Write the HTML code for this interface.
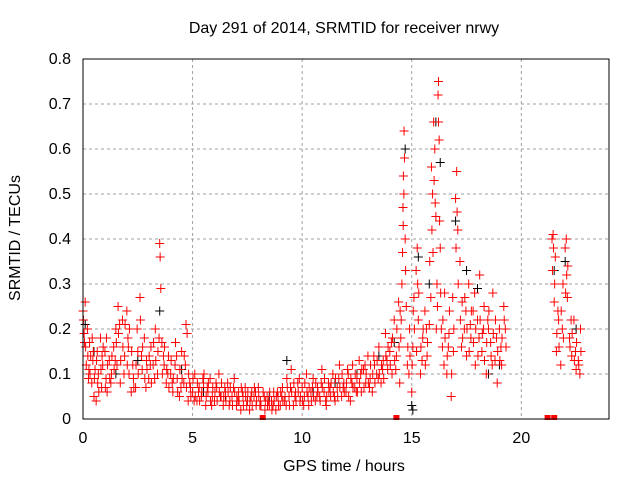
<!DOCTYPE html>
<html><head><meta charset="utf-8"><style>
body{margin:0;background:#fff;}
svg text{font-family:"Liberation Sans",sans-serif;font-size:16px;fill:#000;}
</style></head><body>
<svg id="chart" width="640" height="480">
<text x="344" y="33" text-anchor="middle">Day 291 of 2014, SRMTID for receiver nrwy</text>
<text x="344" y="471" text-anchor="middle">GPS time / hours</text>
<text transform="translate(20,238) rotate(-90)" text-anchor="middle">SRMTID / TECUs</text>
<g id="grid"></g><g id="ticks"></g><g id="marks"></g>
<rect x="83" y="59" width="526" height="360" fill="none" stroke="#000" stroke-width="1"/>
</svg>
<script>
const xTicks=[0,5,10,15,20];
const yTicks=[0,0.1,0.2,0.3,0.4,0.5,0.6,0.7,0.8];
const yTickLabels=["0","0.1","0.2","0.3","0.4","0.5","0.6","0.7","0.8"];
const redT=[0.0,0.05,0.1,0.15,0.2,0.25,0.3,0.35,0.4,0.45,0.5,0.55,0.6,0.65,0.7,0.8,0.85,0.9,1.0,1.05,1.1,1.2,1.3,1.4,1.5,1.55,1.6,1.7,1.8,1.9,2.0,2.05,2.1,2.2,2.3,2.4,2.5,2.6,2.7,2.8,2.9,3.0,3.1,3.2,3.3,3.4,3.5,3.52,3.55,3.6,3.7,3.8,3.9,4.0,4.1,4.2,4.3,4.4,4.5,4.6,4.7,4.75,4.8,4.9,5.0,5.1,5.2,5.3,5.4,5.5,5.6,5.7,5.8,5.9,6.0,6.1,6.2,6.3,6.4,6.5,6.6,6.7,6.8,6.9,7.0,7.1,7.2,7.3,7.4,7.5,7.6,7.7,7.8,7.9,8.0,8.1,8.3,8.4,8.5,8.6,8.7,8.8,8.9,9.0,9.1,9.2,9.3,9.4,9.5,9.6,9.7,9.8,9.9,10.0,10.1,10.2,10.3,10.4,10.5,10.6,10.7,10.8,10.9,11.0,11.1,11.2,11.3,11.4,11.5,11.6,11.7,11.8,11.9,12.0,12.1,12.2,12.3,12.4,12.5,12.6,12.7,12.8,12.9,13.0,13.1,13.2,13.3,13.4,13.5,13.6,13.7,13.8,13.9,14.0,14.1,14.2,14.3,14.4,14.45,14.5,14.55,14.6,14.62,14.65,14.67,14.7,14.75,14.8,14.9,15.0,15.05,15.1,15.2,15.25,15.3,15.4,15.5,15.6,15.7,15.8,15.9,15.95,16.0,16.05,16.1,16.15,16.2,16.22,16.25,16.3,16.35,16.4,16.5,16.6,16.7,16.8,16.9,17.0,17.05,17.1,17.2,17.3,17.4,17.5,17.6,17.7,17.8,17.9,18.0,18.1,18.2,18.3,18.4,18.5,18.6,18.7,18.8,18.9,19.0,19.1,19.2,19.3,21.4,21.45,21.5,21.55,21.6,21.7,21.8,21.9,22.0,22.05,22.1,22.2,22.3,22.4,22.5,22.6,22.7];
const redV=[.24,.19,.26,.12,.2,.09,.17,.14,.08,.13,.05,.11,.04,.15,.1,.18,.07,.12,.15,.09,.06,.13,.1,.16,.2,.12,.25,.08,.22,.14,.24,.18,.1,.06,.09,.07,.15,.27,.11,.18,.13,.09,.16,.12,.2,.1,.39,.36,.29,.17,.12,.08,.14,.1,.06,.12,.09,.05,.15,.08,.21,.19,.04,.07,.06,.1,.04,.07,.05,.08,.03,.06,.09,.05,.04,.07,.1,.05,.03,.06,.08,.04,.05,.09,.03,.06,.02,.05,.07,.04,.02,.06,.05,.03,.07,.04,.02,.05,.03,.04,.06,.02,.05,.03,.07,.04,.09,.05,.11,.03,.06,.08,.04,.07,.05,.1,.03,.06,.09,.04,.07,.05,.11,.06,.03,.08,.05,.1,.04,.07,.12,.05,.08,.06,.1,.04,.12,.07,.09,.13,.06,.11,.08,.14,.09,.06,.12,.1,.16,.08,.13,.19,.11,.15,.1,.22,.14,.26,.08,.18,.3,.47,.54,.64,.58,.4,.25,.12,.2,.06,.16,.27,.33,.38,.22,.1,.18,.24,.14,.21,.56,.5,.66,.6,.45,.3,.72,.75,.62,.38,.2,.16,.28,.1,.19,.05,.15,.49,.55,.42,.35,.26,.2,.14,.3,.18,.24,.12,.22,.32,.15,.25,.1,.2,.17,.28,.13,.08,.2,.12,.25,.16,.4,.41,.26,.36,.15,.22,.12,.3,.38,.4,.27,.18,.14,.22,.11,.13,.2];
const redT2=[0.02,0.12,0.22,0.32,0.42,0.52,0.62,0.72,0.82,0.92,1.02,1.12,1.22,1.32,1.42,1.52,1.62,1.72,1.82,1.92,2.02,2.12,2.22,2.32,2.42,2.52,2.62,2.72,2.82,2.92,3.02,3.12,3.22,3.32,3.42,3.62,3.72,3.82,3.92,4.02,4.12,4.22,4.32,4.42,4.52,4.62,4.72,4.82,4.92,5.02,5.12,5.22,5.32,5.42,5.52,5.62,5.72,5.82,5.92,6.02,6.12,6.22,6.32,6.42,6.52,6.62,6.72,6.82,6.92,7.02,7.12,7.22,7.32,7.42,7.52,7.62,7.72,7.82,7.92,8.02,8.12,8.22,8.32,8.42,8.52,8.62,8.72,8.82,8.92,9.02,9.12,9.22,9.32,9.42,9.52,9.62,9.72,9.82,9.92,10.02,10.12,10.22,10.32,10.42,10.52,10.62,10.72,10.82,10.92,11.02,11.12,11.22,11.32,11.42,11.52,11.62,11.72,11.82,11.92,12.02,12.12,12.22,12.32,12.42,12.52,12.62,12.72,12.82,12.92,13.02,13.12,13.22,13.32,13.42,13.52,13.62,13.72,13.82,13.92,14.02,14.12,14.22,14.32,14.42,14.52,14.58,14.64,14.72,14.82,14.92,15.02,15.12,15.22,15.32,15.42,15.52,15.62,15.72,15.82,15.92,16.02,16.12,16.22,16.32,16.42,16.52,16.62,16.72,16.82,16.92,17.02,17.12,17.22,17.32,17.42,17.52,17.62,17.72,17.82,17.92,18.02,18.12,18.22,18.32,18.42,18.52,18.62,18.72,18.82,18.92,19.02,19.12,19.22,21.42,21.52,21.62,21.72,21.82,21.92,22.02,22.12,22.22,22.32,22.42,22.52,22.62,22.72];
const redV2=[.22,.16,.14,.1,.18,.09,.13,.06,.11,.16,.07,.12,.09,.14,.11,.17,.19,.13,.16,.21,.12,.2,.15,.07,.12,.1,.22,.16,.09,.11,.14,.08,.17,.13,.15,.1,.16,.11,.07,.13,.09,.17,.06,.11,.09,.14,.07,.1,.05,.09,.05,.08,.04,.06,.1,.05,.08,.04,.07,.06,.04,.06,.08,.05,.04,.06,.07,.03,.06,.05,.04,.07,.03,.05,.06,.04,.03,.07,.04,.05,.03,.06,.04,.03,.06,.02,.04,.05,.03,.06,.04,.05,.07,.03,.06,.08,.04,.06,.05,.04,.08,.06,.07,.04,.05,.08,.06,.04,.07,.09,.05,.06,.08,.06,.09,.05,.07,.1,.06,.08,.05,.09,.07,.1,.06,.08,.11,.07,.1,.08,.12,.1,.08,.13,.1,.12,.09,.14,.16,.12,.18,.13,.2,.16,.22,.37,.5,.33,.16,.14,.12,.2,.15,.28,.16,.2,.12,.17,.35,.42,.53,.2,.66,.28,.22,.18,.14,.24,.1,.2,.38,.3,.22,.18,.27,.2,.15,.24,.17,.2,.14,.22,.19,.13,.17,.24,.14,.19,.22,.15,.13,.18,.22,.33,.3,.19,.16,.24,.18,.28,.34,.16,.19,.13,.17,.12,.15];
const redT3=[0.07,0.27,0.47,0.67,0.87,1.07,1.27,1.47,1.67,1.87,2.07,2.27,2.47,2.67,2.87,3.07,3.27,3.47,3.67,3.87,4.07,4.27,4.47,4.67,4.87,5.07,5.27,5.47,5.67,5.87,6.07,6.27,6.47,6.67,6.87,7.07,7.27,7.47,7.67,7.87,8.07,8.27,8.47,8.67,8.87,9.07,9.27,9.47,9.67,9.87,10.07,10.27,10.47,10.67,10.87,11.07,11.27,11.47,11.67,11.87,12.07,12.27,12.47,12.67,12.87,13.07,13.27,13.47,13.67,13.87,14.07,14.27,14.47,14.61,14.87,15.07,15.27,15.47,15.67,15.87,15.97,16.07,16.17,16.27,16.47,16.67,16.87,17.07,17.27,17.47,17.67,17.87,18.07,18.27,18.47,18.67,18.87,19.07,19.27,21.47,21.67,21.87,22.07,22.27,22.47,22.67];
const redV3=[.17,.11,.15,.08,.14,.18,.08,.13,.21,.1,.16,.12,.2,.14,.07,.12,.09,.18,.14,.1,.08,.14,.07,.12,.08,.04,.06,.09,.07,.03,.08,.05,.07,.03,.07,.04,.06,.03,.05,.06,.03,.05,.04,.03,.06,.05,.03,.07,.05,.09,.03,.05,.07,.05,.08,.04,.07,.05,.09,.07,.11,.08,.06,.1,.12,.07,.14,.09,.11,.13,.17,.11,.24,.43,.1,.24,.3,.13,.2,.27,.37,.48,.25,.44,.12,.16,.27,.46,.16,.24,.21,.28,.18,.2,.22,.12,.18,.16,.2,.38,.24,.2,.32,.22,.15,.1];
const blackT=[0.1,0.5,1.5,2.5,3.5,4.5,5.5,6.5,7.5,8.5,9.3,10.5,11.5,12.5,13.5,14.2,14.6,14.7,15.0,15.05,15.3,15.8,16.1,16.3,17.0,17.5,18.0,18.5,19.0,21.5,22.0,22.5];
const blackV=[.21,.15,.1,.13,.24,.11,.06,.05,.04,.05,.13,.06,.08,.1,.14,.17,.47,.6,.03,.02,.36,.3,.66,.57,.44,.33,.29,.1,.12,.33,.35,.2];
const zeroT=[8.2,14.3,21.2,21.5];
const NS="http://www.w3.org/2000/svg";
const X=t=>83+t*526/24, Y=v=>419-v*450;
function mk(tag,attrs,parent){const e=document.createElementNS(NS,tag);for(const k in attrs)e.setAttribute(k,attrs[k]);parent.appendChild(e);return e;}
const grid=document.getElementById('grid'),ticks=document.getElementById('ticks'),marks=document.getElementById('marks');
xTicks.forEach(t=>{
 if(t>0){const g=mk('line',{x1:X(t),x2:X(t),y1:59,y2:419,stroke:'#a0a0a0','stroke-dasharray':'3,3'},grid);
 
 }
 const tx=mk('text',{x:X(t),y:443,'text-anchor':'middle'},ticks);tx.textContent=t;
 
 
});
yTicks.forEach((v,i)=>{
 if(v>0&&v<0.8){const g=mk('line',{x1:83,x2:609,y1:Y(v),y2:Y(v),stroke:'#a0a0a0','stroke-dasharray':'3,3'},grid);
 
 }
 const tx=mk('text',{x:71,y:Y(v)+5,'text-anchor':'end'},ticks);tx.textContent=yTickLabels[i];
 
 
});
function plus(t,v,c,name){const x=X(t),y=Y(v);
 const p=mk('path',{d:`M${x-4.5},${y}H${x+4.5}M${x},${y-4.5}V${y+4.5}`,stroke:c,'stroke-width':1,fill:'none'},marks);
 
 }
blackT.forEach((t,i)=>plus(t,blackV[i],'#000','black-point'));
redT.forEach((t,i)=>plus(t,redV[i],'#f00','red-point'));
redT2.forEach((t,i)=>plus(t,redV2[i],'#f00','red-point'));
redT3.forEach((t,i)=>plus(t,redV3[i],'#f00','red-point'));
zeroT.forEach(t=>{const r=mk('rect',{x:X(t)-3,y:415,width:6,height:5,fill:'#f00'},marks);
 
 });
</script>
</body></html>
